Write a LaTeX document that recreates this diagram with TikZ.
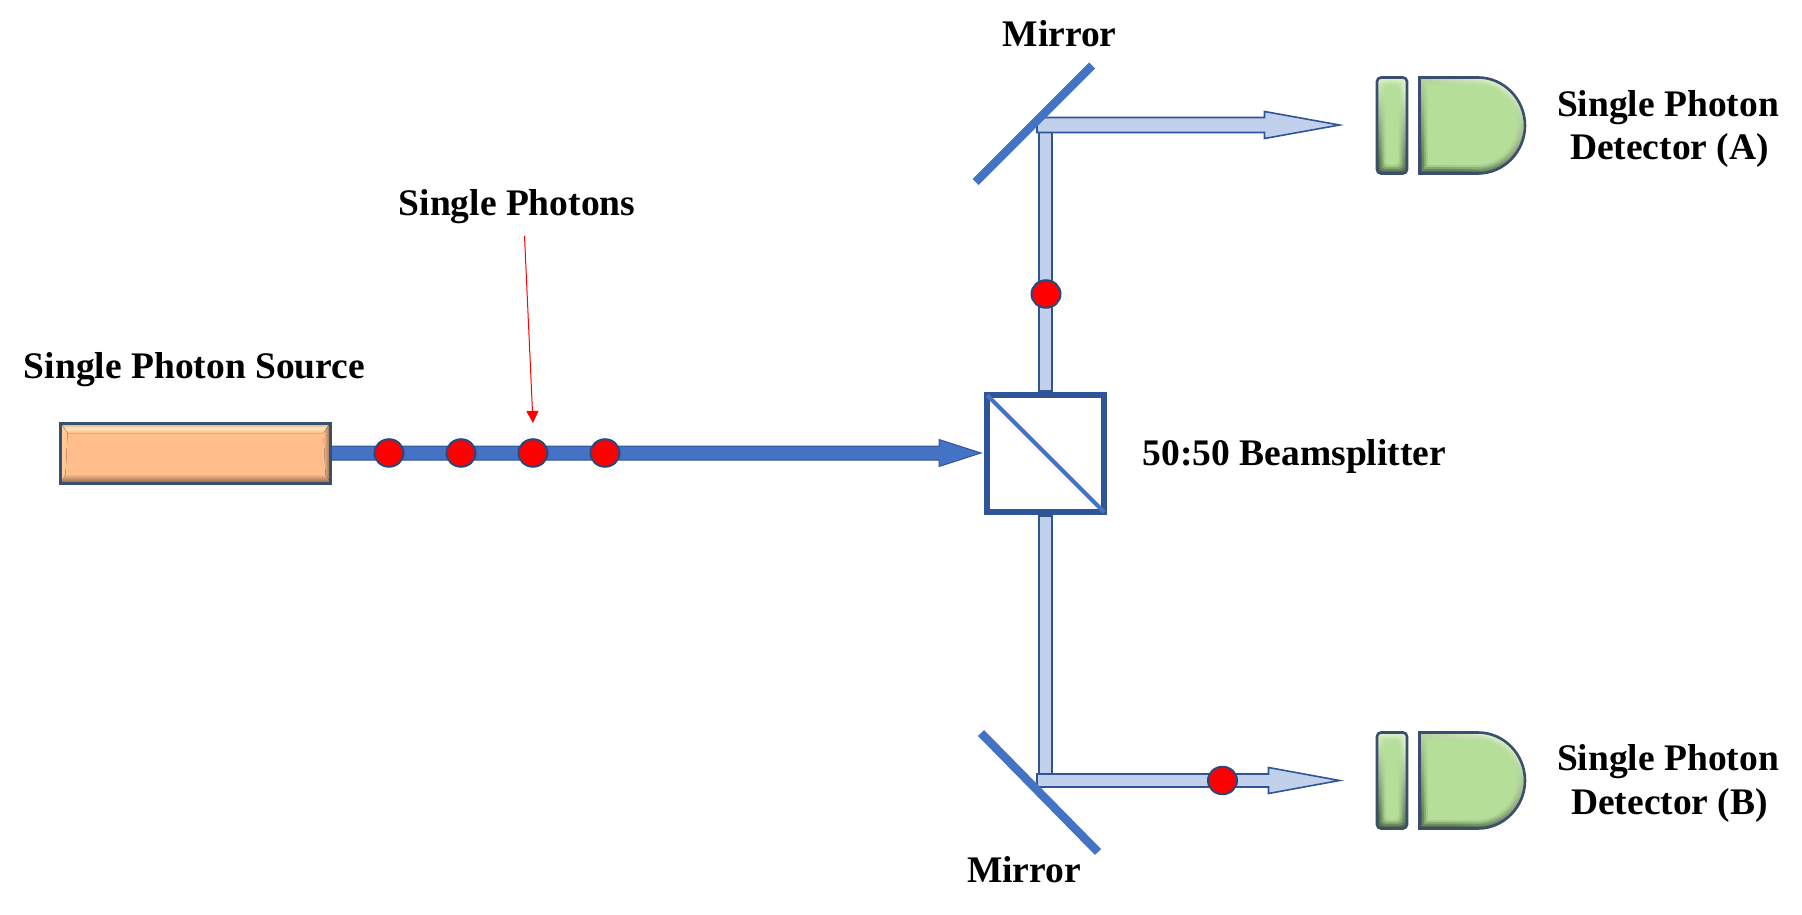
\documentclass[tikz,border=0pt]{standalone}
\usepackage{fontspec}
\setmainfont{Liberation Serif}
\usetikzlibrary{calc,arrows.meta,shapes.geometric}
\definecolor{beamdark}{HTML}{4472C4}
\definecolor{beamline}{HTML}{2F5597}
\definecolor{beamlight}{HTML}{C2D1EB}
\definecolor{srcfill}{HTML}{FFBE8C}
\definecolor{srcpale}{HTML}{FFE6B8}
\definecolor{srcdark}{HTML}{85654F}
\definecolor{detfill}{HTML}{B5DE98}
\definecolor{detpale}{HTML}{DDF1CA}
\definecolor{detdark}{HTML}{4F6844}
\definecolor{edge}{HTML}{3A4F6E}
\tikzset{
  x=1pt,y=-1pt,
  lab/.style={font=\fontsize{37.5}{45}\selectfont\bfseries,inner sep=0pt,anchor=base,align=center},
  photon/.style={ellipse,minimum width=29,minimum height=27.5,inner sep=0pt,fill=red,draw=beamline!85!black,line width=2},
  darkbeam/.style={fill=beamdark,draw=beamline,line width=1},
  lightbeam/.style={fill=beamlight,draw=beamline,line width=1.6,line join=miter},
  mirrorbar/.style={draw=beamdark,line width=8.5},
  anchorbox/.style={rectangle,inner sep=0pt,outer sep=0pt},
  splitter/.style={rectangle,inner sep=0pt,outer sep=0pt,minimum size=117,draw=beamline,line width=5.5,fill=white},
  bev/.style={top color=detpale,bottom color=detdark,shading angle=-22},
}
% arrow pointing right: style, from, to, half shaft, half head, head length
\newcommand\blockarrow[6]{\draw[#1] ($(#2)+(0,-#4)$) -- ($(#3)+(-#6,-#4)$) -- ($(#3)+(-#6,-#5)$) -- (#3) -- ($(#3)+(-#6,#5)$) -- ($(#3)+(-#6,#4)$) -- ($(#2)+(0,#4)$) -- cycle;}
\newcommand\Dshape{(-52.5,-48) -- (6,-48) .. controls (32,-48) and (53,-26) .. (53,0) .. controls (53,26) and (32,48) .. (6,48) -- (-52.5,48) -- cycle}
\newcommand\Bar{[rounded corners=4] (-15,-48) rectangle (15,48)}
% body of a detector with soft bevel
\newcommand\softshape[4]{% position, shape, half width, half height
  \begin{scope}[shift={(#1)}]
    \fill[bev] #2;
    \foreach \i/\o in {2.5/25,4.5/40,6.5/65,8.5/100}{
      \pgfmathsetmacro\sx{(#3-\i)/#3}\pgfmathsetmacro\sy{(#4-\i)/#4}
      \fill[detfill,fill opacity=\o/100,xscale=\sx,yscale=\sy] #2;
    }
    \draw[edge,line width=2.6] #2;
  \end{scope}}
\begin{document}
\begin{tikzpicture}
\useasboundingbox (0,0) rectangle (1802,915);
% labels
\node[lab] (tSource) at (194.5,378) {Single Photon Source};
\node[lab] (tPhotons) at (517,215) {Single Photons};
\node[lab] (tMirrorA) at (1059.5,47) {Mirror};
\node[lab] (tMirrorB) at (1024,882) {Mirror};
\node[lab] (tSplit) at (1294.5,465) {50:50 Beamsplitter};
\node[lab] (tDetA1) at (1668,117) {Single Photon};
\node[lab] (tDetA2) at (1669.5,160) {Detector (A)};
\node[lab] (tDetB1) at (1668,770) {Single Photon};
\node[lab] (tDetB2) at (1669.5,814) {Detector (B)};
% anchors
\node[anchorbox,minimum width=270,minimum height=60] (src) at (195.5,453) {};
\node[splitter] (bs) at (1045.5,453.5) {};
\coordinate (bsIn) at (981,453);
\coordinate (cA) at (1045.2,125);
\coordinate (cB) at (1045.2,781);
\coordinate (hA) at (1037,125);
\coordinate (hB) at (1037,780.5);
\coordinate (tipA) at (1339.5,125);
\coordinate (tipB) at (1339.5,780.5);
\coordinate (mAt) at (1092,65.5);
\coordinate (mAb) at (975.5,182);
\coordinate (mBt) at (981,733);
\coordinate (mBb) at (1098,852);
\coordinate (redFrom) at (524.5,236);
\coordinate (redTo) at (533,423);
\coordinate (dAbar) at (1392,125.5);
\coordinate (dAd) at (1472,125.5);
\coordinate (dBbar) at (1392,780.5);
\coordinate (dBd) at (1472,780.5);
% source beam
\blockarrow{darkbeam}{src.east}{bsIn}{7}{13.5}{42}
% light vertical beams
\draw[lightbeam] ($(cA)+(-6.5,0)$) rectangle ($(bs.north)+(6.5,-4)$);
\draw[lightbeam] ($(bs.south)+(-6.5,4)$) rectangle ($(cB)+(6.5,0)$);
% light horizontal beams
\blockarrow{lightbeam}{hA}{tipA}{7.5}{13.5}{75}
\blockarrow{lightbeam}{hB}{tipB}{6.5}{13}{71}
% mirrors
\draw[mirrorbar] (mAb) -- (mAt);
\draw[mirrorbar] (mBt) -- (mBb);
% splitter diagonal
\draw[beamdark,line width=4] (bs.north west) -- (bs.south east);
% source box
\fill[srcfill] (src.north west) rectangle (src.south east);
\fill[top color=srcfill,bottom color=srcdark] ($(src.south west)+(5,-9)$) -- ($(src.south east)+(-5,-9)$) -- (src.south east) -- (src.south west) -- cycle;
\fill[top color=srcfill!70!srcdark,bottom color=srcpale] (src.north west) -- (src.north east) -- ($(src.north east)+(-4,5)$) -- ($(src.north west)+(4,5)$) -- cycle;
\fill[top color=srcpale,bottom color=srcfill] ($(src.north west)+(4,5)$) -- ($(src.north east)+(-4,5)$) -- ($(src.north east)+(-7,10)$) -- ($(src.north west)+(7,10)$) -- cycle;
\fill[left color=srcpale!50!srcfill,right color=srcfill] (src.north west) -- ($(src.north west)+(7,10)$) -- ($(src.south west)+(5,-9)$) -- (src.south west) -- cycle;
\fill[left color=srcfill,right color=srcdark] ($(src.north east)+(-7,10)$) -- ($(src.south east)+(-5,-9)$) -- (src.south east) -- (src.north east) -- cycle;
\draw[edge,line width=3] (src.north west) rectangle (src.south east);
% photons
\node[photon] (p1) at (389,453) {};
\node[photon] (p2) at (461,453) {};
\node[photon] (p3) at (533,453) {};
\node[photon] (p4) at (605,453) {};
\node[photon] (p5) at (1046,294) {};
\node[photon] (p6) at (1222.5,780.5) {};
% red pointer
\draw[red,line width=1,-{Triangle[length=12,width=12]}] (redFrom) -- (redTo);
% detectors
\softshape{dAbar}{\Bar}{15}{48}
\softshape{dAd}{\Dshape}{53}{48}
\softshape{dBbar}{\Bar}{15}{48}
\softshape{dBd}{\Dshape}{53}{48}
\end{tikzpicture}
\end{document}
